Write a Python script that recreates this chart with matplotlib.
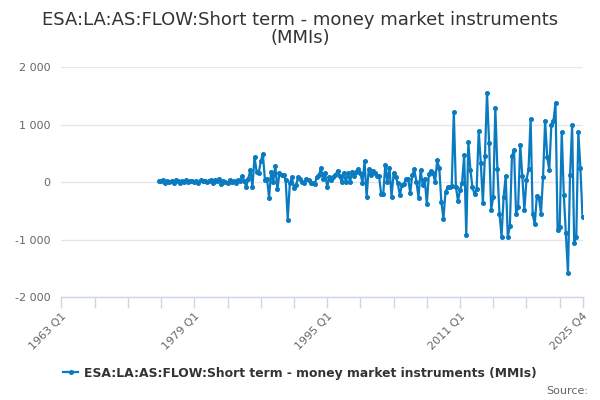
import matplotlib
matplotlib.use("Agg")
import matplotlib.pyplot as plt
import numpy as np
from matplotlib.ticker import FuncFormatter, FixedLocator
from matplotlib.lines import Line2D

title_line1 = "ESA:LA:AS:FLOW:Short term - money market instruments"
title_line2 = "(MMIs)"
series_name = "ESA:LA:AS:FLOW:Short term - money market instruments (MMIs)"

# axis range: quarters 1963 Q1 .. 2025 Q4
axis_start = (1963, 1)
axis_end = (2025, 4)
data_start = (1974, 4)

tick_labels = ["1963 Q1", "1979 Q1", "1995 Q1", "2011 Q1", "2025 Q4"]
y_ticks = [-2000, -1000, 0, 1000, 2000]

values_1974_1982 = [20, 10, 30, -10, 15, 5, 25, -15, 35, 10, -20, 20, 5, 30, -5, 15,
                    25, 0, 20, -10, 30, 10, 15, -5, 25, 40, -20, 30, 10, 50, -30, 20]
values_1982_1995 = [0, -20, 30, 0, 20, -10, 40, 10, 100, 20, -80, 60, 210, -80, 440,
                    180, 150, 360, 490, 40, 60, -275, 180, 0, 280, -130, 150, 120, 120,
                    30, -655, -20, 80, -110, -50, 80, 60, 0, -20, 60, 30, -20, -20, -35,
                    90, 120, 240, 60, 150, -80, 80]
values_1995_2008 = [35, 90, 120, 200, 100, 0, 150, 0, 160, 0, 180, 100, 180, 220, 160,
                    -20, 360, -255, 220, 120, 200, 160, 100, 100, -210, -210, 300, 0,
                    250, -255, 150, 90, -20, -230, -50, -35, 45, 60, -190, 120, 220, 0,
                    -270, 210, -50, 60, -385, 140, 200, 150, 0, 375, 240, -345]
values_2009_2017 = [-640, -170, -95, -80, -70, 1215, -80, -330, -140, -10, 475, -930,
                    690, 210, -95, -210, -130, 885, 330, -360, 455, 1555, 680, -480,
                    -260, 1290, 220, -550, -950, -260, 105, -950, -770, 445, 560]
values_2017_2025 = [-550, -430, 650, 105, -490, 35, 220, 1100, -560, -735, -245, -270,
                    -550, 95, 1060, 435, 210, 1000, 1060, 1380, -830, -785, 865, -225,
                    -890, -1590, 125, 985, -1065, -960, 865, 240, -610]

values = (values_1974_1982 + values_1982_1995 + values_1995_2008 +
          values_2009_2017 + values_2017_2025)


def qidx(yq):
    return (yq[0] - axis_start[0]) * 4 + (yq[1] - axis_start[1])


def label_idx(lbl):
    y, q = lbl.split(" Q")
    return qidx((int(y), int(q)))


x = qidx(data_start) + np.arange(len(values))

line_color = "#0a7bc1"
grid_color = "#e6e6e6"
axis_color = "#ccd6eb"
text_color = "#666666"
title_color = "#333333"

plt.rcParams['font.family'] = ['DejaVu Sans']

fig = plt.figure(figsize=(6, 4), dpi=100)
ax = fig.add_axes([61.5 / 600, 1 - 297 / 400, 521 / 600, 230 / 400])

ax.plot(x, values, color=line_color, lw=1.6, marker="o", ms=2.6, zorder=3,
        solid_joinstyle="round")

ax.set_xlim(qidx(axis_start), qidx(axis_end))
ax.set_ylim(-2000, 2000)

ax.set_yticks(y_ticks)
ax.yaxis.set_major_formatter(FuncFormatter(lambda v, p: f"{int(v):,}".replace(",", " ")))
ax.grid(axis="y", color=grid_color, lw=1)
ax.set_axisbelow(True)

major = [label_idx(l) for l in tick_labels]
minor = list(range(0, qidx(axis_end) + 1, 16))
ax.xaxis.set_major_locator(FixedLocator(major))
ax.xaxis.set_minor_locator(FixedLocator(minor))
ax.set_xticklabels(tick_labels, rotation=45, ha="right", va="top",
                   rotation_mode="anchor", color=text_color, fontsize=8)
ax.tick_params(axis="x", which="both", length=8, color=axis_color, width=1, pad=2)
ax.tick_params(axis="y", length=0, labelsize=8, labelcolor=text_color, pad=8)

for s in ["top", "right", "left"]:
    ax.spines[s].set_visible(False)
ax.spines["bottom"].set_color(axis_color)
ax.spines["bottom"].set_linewidth(1)

fig.text(0.5, 1 - 20 / 400, title_line1, ha="center", va="center", fontsize=13,
         color=title_color)
fig.text(0.5, 1 - 38 / 400, title_line2, ha="center", va="center", fontsize=13,
         color=title_color)

h = Line2D([], [], color=line_color, lw=1.6, marker="o", ms=2.6)
fig.legend([h], [series_name], loc="center", bbox_to_anchor=(0.5, 1 - 373 / 400),
           frameon=False, prop={"weight": "bold", "size": 8.9}, handlelength=1.2,
           handletextpad=0.5, labelcolor=title_color)
fig.text(588 / 600, 1 - 391 / 400, "Source:", ha="right", va="center", fontsize=8,
         color=text_color)

fig.savefig("out.png", dpi=100)
